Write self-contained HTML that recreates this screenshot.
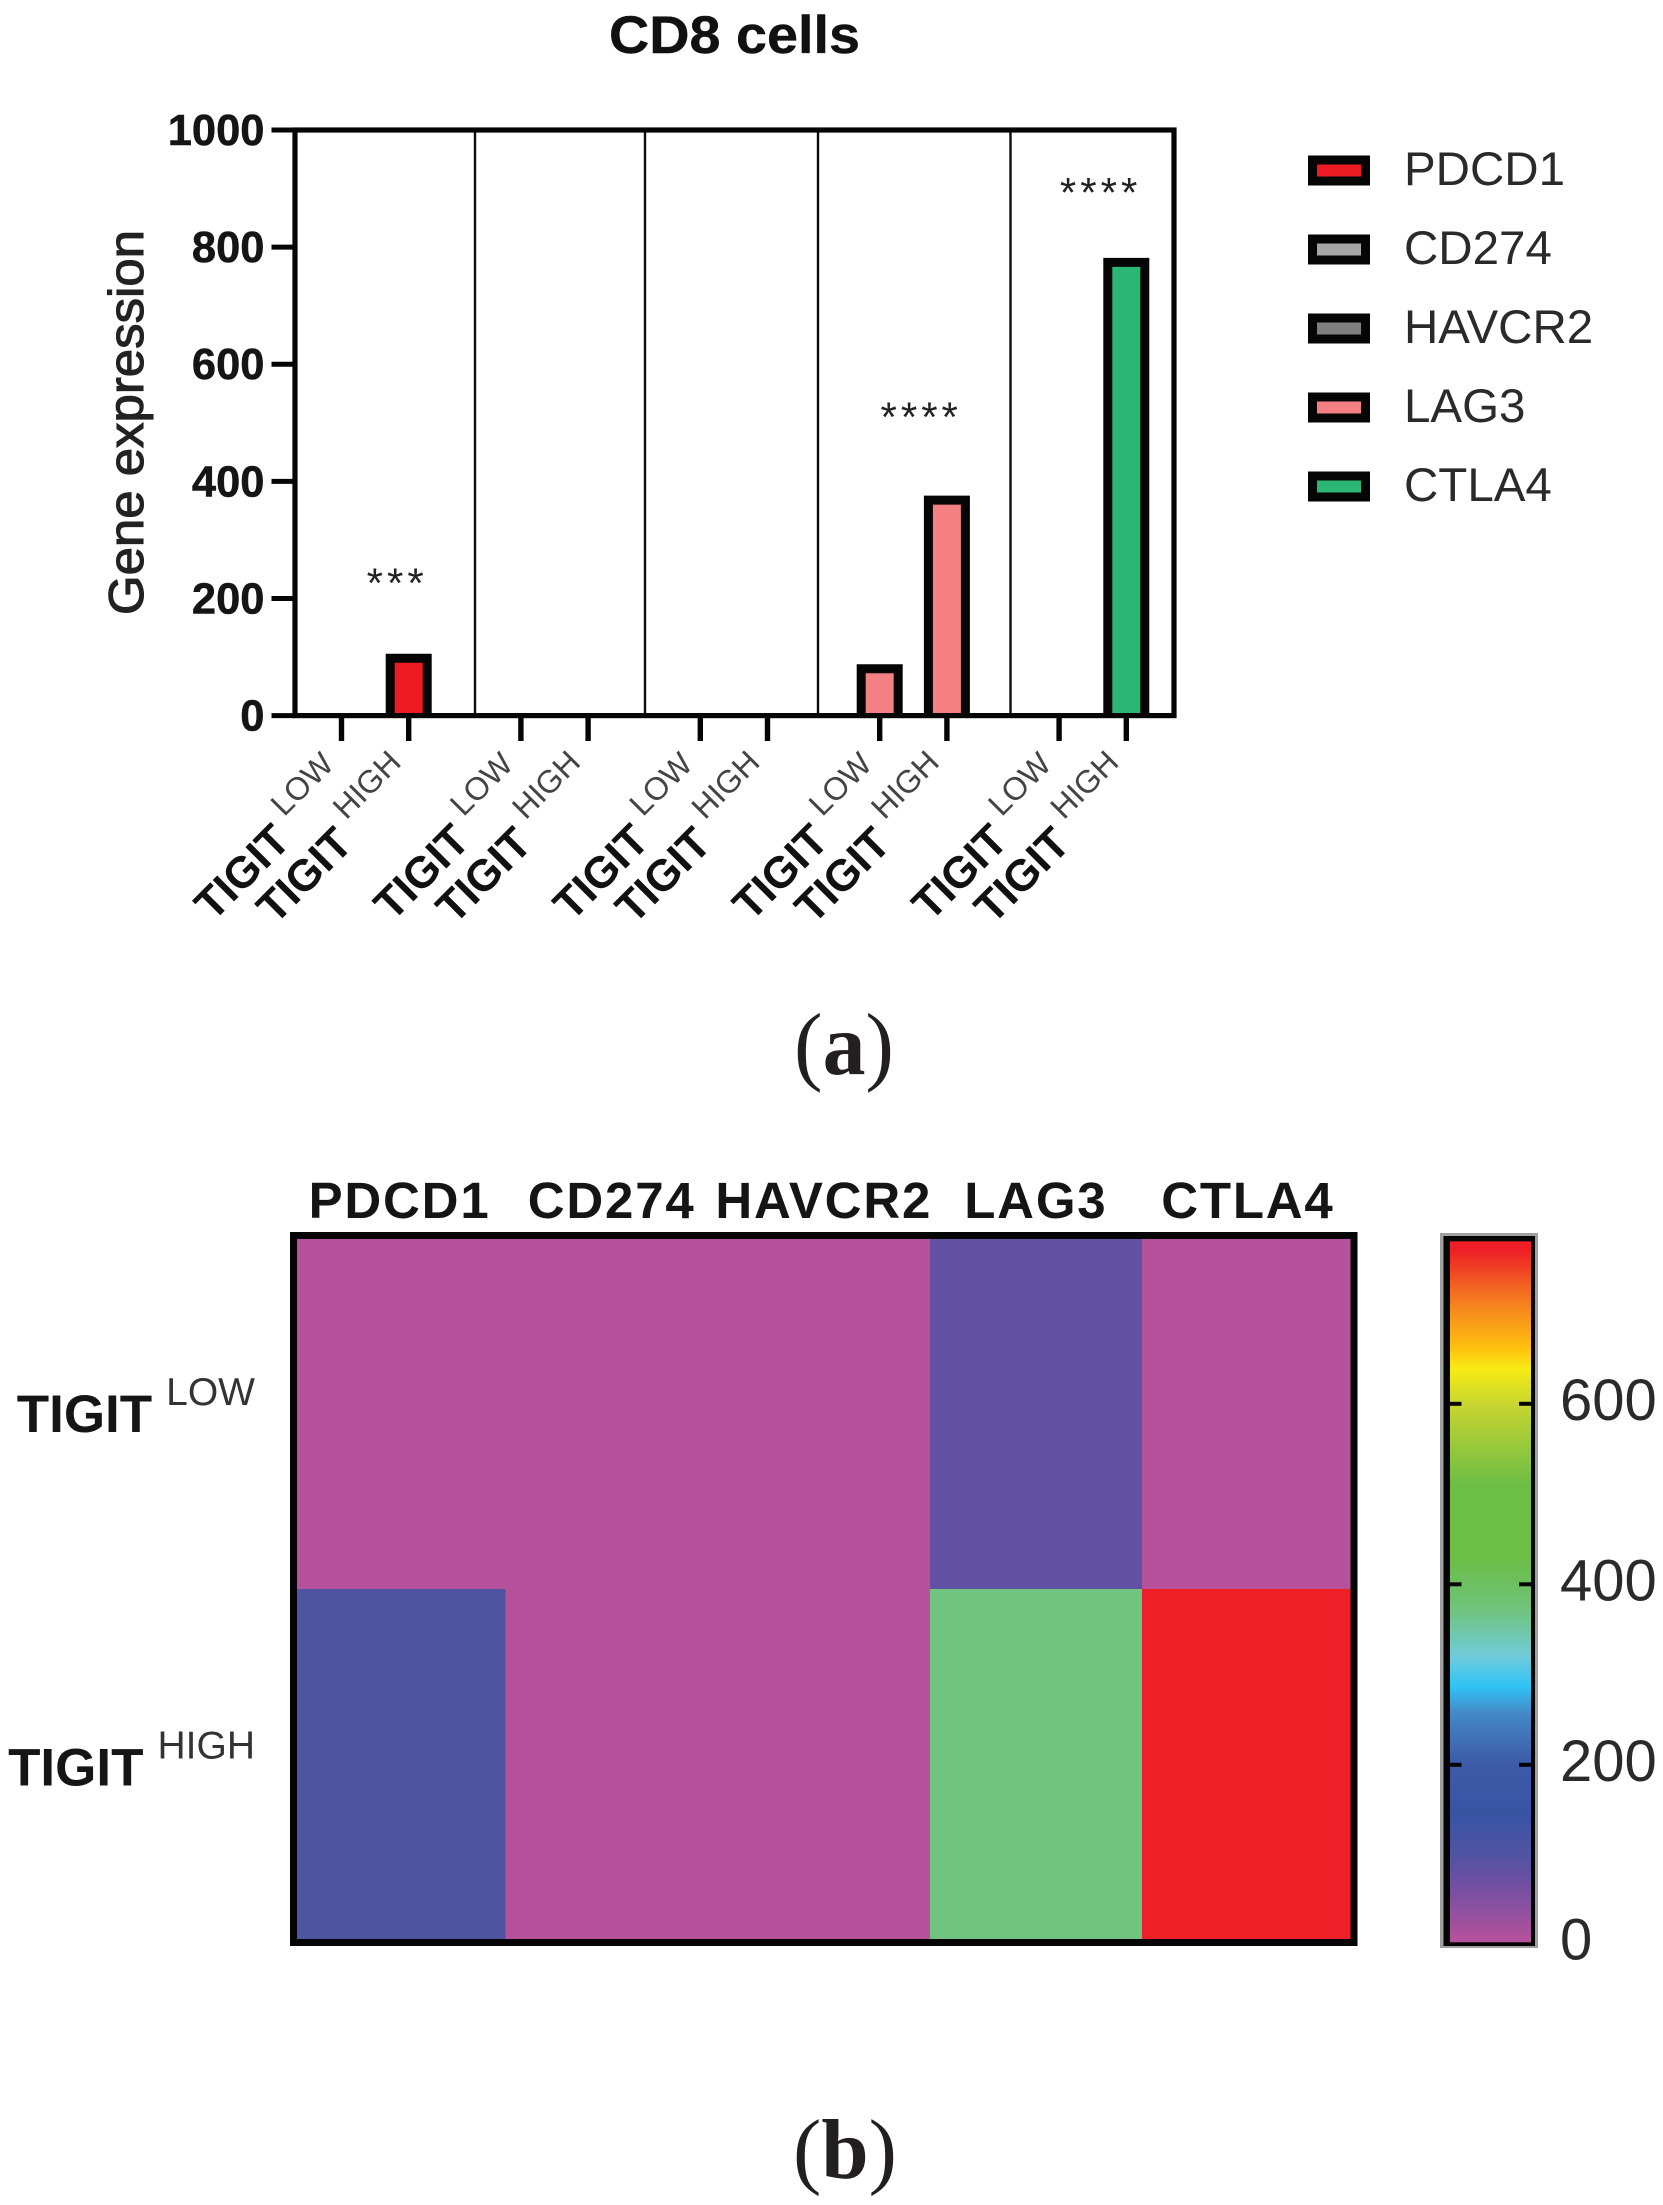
<!DOCTYPE html>
<html lang="en">
<head>
<meta charset="utf-8">
<title>CD8 cells gene expression</title>
<style>
html,body{margin:0;padding:0;background:#fff;}
#figure{display:block;width:1663px;height:2205px;}
text{font-family:"Liberation Sans",Arial,sans-serif;}
</style>
</head>
<body>
<svg id="figure" xmlns="http://www.w3.org/2000/svg" width="1663" height="2205" viewBox="0 0 1663 2205">
  <rect width="1663" height="2205" fill="#ffffff"/>
  <text x="609" y="53" font-size="53" font-weight="700" fill="#111" stroke="#111" stroke-width="0.4" textLength="251" lengthAdjust="spacingAndGlyphs">CD8 cells</text>
  <text transform="translate(143,615) rotate(-90)" font-size="49" fill="#222" stroke="#222" stroke-width="1.1" textLength="385" lengthAdjust="spacingAndGlyphs">Gene expression</text>
  <g id="bars"></g>
  <g stroke="#0a0a0a" stroke-width="2.4">
    <line x1="475" y1="130" x2="475" y2="716"/>
    <line x1="645" y1="130" x2="645" y2="716"/>
    <line x1="818" y1="130" x2="818" y2="716"/>
    <line x1="1010.5" y1="130" x2="1010.5" y2="716"/>
  </g>
  <rect x="295" y="130" width="879" height="585.6" fill="none" stroke="#050505" stroke-width="5.2"/>
  <g id="y-axis"></g>
  <g id="x-axis"></g>
  <g id="significance"></g>
  <g id="legend"></g>
  <text x="844" y="1074" text-anchor="middle" font-size="88" fill="#231f20" textLength="100" lengthAdjust="spacingAndGlyphs" style="font-family:'Liberation Serif',serif">(<tspan font-weight="700">a</tspan>)</text>

  <g id="heatmap" shape-rendering="crispEdges"></g>
  <rect x="293.5" y="1235.5" width="1060.5" height="707" fill="none" stroke="#050505" stroke-width="7"/>
  <g id="heat-labels"></g>
  <defs>
    <linearGradient id="cbar-gradient" x1="0" y1="1" x2="0" y2="0"></linearGradient>
  </defs>
  <g id="colorbar"></g>
  <text x="845" y="2178" text-anchor="middle" font-size="85" fill="#231f20" style="font-family:'Liberation Serif',serif">(<tspan font-weight="700">b</tspan>)</text>
</svg>
<script>
const genes = ['PDCD1', 'CD274', 'HAVCR2', 'LAG3', 'CTLA4'];
const geneColors = ['#ed1c24', '#a6a6a6', '#7f7f7f', '#f48083', '#2bb673'];
const lowValues = [0, 0, 0, 80, 0];
const highValues = [98, 0, 0, 368, 774];
const yTicks = [0, 200, 400, 600, 800, 1000];
const groupLabels = ['LOW', 'HIGH'];
const sigGroups = [0, 3, 4];
const sigLabels = ['***', '****', '****'];
const sigLevels = [234, 518, 901];
const heatRows = ['LOW', 'HIGH'];
const heatLow = [0, 0, 0, 80, 0];
const heatHigh = [100, 0, 0, 368, 774];
const colorbarTicks = [0, 200, 400, 600];
const colorValues = [0, 40, 80, 100, 140, 200, 255, 285, 318, 368, 400, 430, 510, 600, 638, 660, 710, 770];
const colorHexes = ['#b8519b', '#8a50a0', '#6250a2', '#4f54a3', '#3a53a4', '#3c5ba8', '#4489c7', '#2ec4f4', '#70cbdc', '#70c47f', '#6dbf5f', '#6cbe45', '#6dbe45', '#c9d62f', '#f7ec13', '#ffc20e', '#f58220', '#ee1f26'];
const colorbarMax = 780;

const NS = 'http://www.w3.org/2000/svg';
function mk(parent, tag, attrs, txt) {
  const el = document.createElementNS(NS, tag);
  for (const k in attrs) el.setAttribute(k, attrs[k]);
  if (txt !== undefined) el.textContent = txt;
  parent.appendChild(el);
  return el;
}
const $ = id => document.getElementById(id);

/* axis functions */
const yScale = v => 715.6 - 0.5856 * v;
const xTick = (group, side) => 341.5 + 179.4 * group + 67.2 * side;
const heatX = i => 293.5 + 212.1 * i;
const heatY = i => 1235.5 + 353.5 * i;
const cbY = v => 1945.3 - 0.9025 * v;

function hexToRgb(h) {
  return [1, 3, 5].map(i => parseInt(h.substr(i, 2), 16));
}
function colorFor(v) {
  if (v <= colorValues[0]) return colorHexes[0];
  for (let i = 1; i < colorValues.length; i++) {
    if (v <= colorValues[i]) {
      const t = (v - colorValues[i - 1]) / (colorValues[i] - colorValues[i - 1]);
      const a = hexToRgb(colorHexes[i - 1]);
      const b = hexToRgb(colorHexes[i]);
      return 'rgb(' + a.map((c, k) => Math.round(c + (b[k] - c) * t)).join(',') + ')';
    }
  }
  return colorHexes[colorHexes.length - 1];
}

/* bars: open-bottomed outline so the fill reaches the axis */
[lowValues, highValues].forEach((series, side) => {
  series.forEach((v, g) => {
    if (v <= 0) return;
    const cx = xTick(g, side);
    const bar = mk($('bars'), 'path', {
      d: 'M' + (cx - 18.5) + ' ' + yScale(0) + 'V' + yScale(v) + 'H' + (cx + 18.5) + 'V' + yScale(0),
      fill: geneColors[g], stroke: '#050505', 'stroke-width': 9, 'stroke-linejoin': 'miter'
    });
    
    
  });
});

/* y axis */
yTicks.forEach(t => {
  const tick = mk($('y-axis'), 'line', {
    x1: 271.5, x2: 295, y1: yScale(t), y2: yScale(t), stroke: '#050505', 'stroke-width': 5
  });
  
  
  const label = mk($('y-axis'), 'text', {
    x: 264.5, y: yScale(t) + 15, 'text-anchor': 'end', 'font-size': 43.5, 'font-weight': 700,
    fill: '#151515', stroke: '#151515', 'stroke-width': 0.5
  }, String(t));
  
  
});

/* x axis */
genes.forEach((g, gi) => {
  groupLabels.forEach((lab, side) => {
    const x = xTick(gi, side);
    const tick = mk($('x-axis'), 'line', {
      x1: x, x2: x, y1: 715.6, y2: 741, stroke: '#050505', 'stroke-width': 5.4
    });
    
    
    const label = mk($('x-axis'), 'text', {
      transform: 'translate(' + (x - 6) + ',' + (side ? 764 : 766) + ') rotate(-45)',
      'text-anchor': 'end'
    });
    
    
    mk(label, 'tspan', { 'font-size': 44, 'font-weight': 700, fill: '#111', dy: 24 }, 'TIGIT');
    mk(label, 'tspan', { 'font-size': 32, fill: '#444', dy: -24, dx: 12 }, lab);
  });
});

/* significance */
sigGroups.forEach((g, i) => {
  const star = mk($('significance'), 'text', {
    x: xTick(g, 1) + (sigLabels[i].length < 4 ? 19 : 15), y: yScale(sigLevels[i]) + 19, 'text-anchor': 'end',
    'font-size': 42, 'letter-spacing': 4, fill: '#222'
  }, sigLabels[i]);
  
  
});

/* legend */
genes.forEach((g, i) => {
  const top = 160 + 79 * i;
  const sw = mk($('legend'), 'rect', {
    x: 1312.5, y: top, width: 53, height: 21, fill: geneColors[i], stroke: '#050505', 'stroke-width': 9
  });
  
  
  const txt = mk($('legend'), 'text', {
    x: 1404, y: 185 + 79 * i, 'font-size': 47.5, fill: '#2a2a2a'
  }, g);
  
  
});

/* heatmap */
[heatLow, heatHigh].forEach((row, r) => {
  row.forEach((v, c) => {
    const cell = mk($('heatmap'), 'rect', {
      x: heatX(c), y: heatY(r), width: heatX(c + 1) - heatX(c), height: heatY(r + 1) - heatY(r),
      fill: colorFor(v)
    });
    
    
  });
});
genes.forEach((g, c) => {
  const t = mk($('heat-labels'), 'text', {
    x: (heatX(c) + heatX(c + 1)) / 2, y: 1218, 'text-anchor': 'middle',
    'font-size': 51, 'font-weight': 700, 'letter-spacing': 1.8, fill: '#151515'
  }, g);
  
  
});
heatRows.forEach((lab, r) => {
  const cy = (heatY(r) + heatY(r + 1)) / 2;
  const t = mk($('heat-labels'), 'text', { x: 255, y: cy + 19.5, 'text-anchor': 'end' });
  
  
  mk(t, 'tspan', { 'font-size': 53, 'font-weight': 700, fill: '#151515' }, 'TIGIT');
  mk(t, 'tspan', { 'font-size': 39, fill: '#333', dy: -27, dx: 14 }, lab);
});

/* colorbar */
colorValues.forEach((v, i) => {
  const stop = mk($('cbar-gradient'), 'stop', { offset: v / colorbarMax, 'stop-color': colorHexes[i] });
  
  
});
const cbOuter = mk($('colorbar'), 'rect', { x: 1440, y: 1233, width: 98, height: 715, fill: '#a0a0a0' });


const cbFrame = mk($('colorbar'), 'rect', { x: 1443.5, y: 1236, width: 91.5, height: 710, fill: '#050505' });


const cbRamp = mk($('colorbar'), 'rect', {
  x: 1450, y: cbY(colorbarMax), width: 81, height: cbY(0) - cbY(colorbarMax) - 3, fill: 'url(#cbar-gradient)'
});


colorbarTicks.forEach(t => {
  if (t > 0) {
    const l = mk($('colorbar'), 'line', { x1: 1446, x2: 1461.5, y1: cbY(t), y2: cbY(t), stroke: '#050505', 'stroke-width': 4 });
    
    
    const r = mk($('colorbar'), 'line', { x1: 1519, x2: 1534, y1: cbY(t), y2: cbY(t), stroke: '#050505', 'stroke-width': 4 });
    
    
  }
  const lab = mk($('colorbar'), 'text', { x: 1560, y: cbY(t) + (t > 0 ? 16 : 14), 'font-size': 58, fill: '#2a2a2a' }, String(t));
  
  
});
</script>
</body>
</html>
